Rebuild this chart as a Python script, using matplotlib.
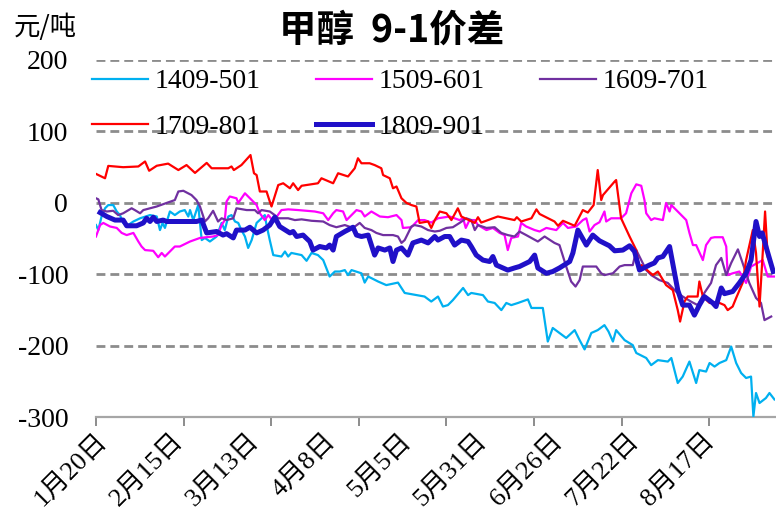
import matplotlib
matplotlib.use('Agg')
from matplotlib import pyplot as plt

plt.rcParams['axes.unicode_minus'] = False

# x = days counted from 1月20日, y = spread (元/吨)
d1409 = [0, 0.8, 1.9, 3.1, 4.2, 5.9, 7.1, 8.2, 9.3, 11.0, 12.8, 15.1, 18.5, 20.8, 21.9, 22.8, 23.6, 25.3, 27.0, 28.7,
         30.4, 31.6, 32.2, 33.3, 35.0, 36.2, 37.3, 39.0, 41.3, 43.0, 44.1, 45.3, 46.4, 47.6, 48.7, 49.8, 51.0, 52.1, 53.3, 55.0,
         56.7, 57.8, 58.4, 59.5, 60.7, 63.5, 64.7, 65.8, 66.9, 70.4, 72.1, 73.8, 76.0, 77.8, 80.0, 81.8, 83.5, 85.2, 86.3, 87.5,
         90.9, 92.0, 93.2, 96.6, 99.4, 103.4, 105.7, 112.5, 114.8, 117.1, 118.8, 120.5, 122.2, 125.7, 127.4, 128.5, 132.5, 134.2, 136.5, 138.8,
         140.5, 142.2, 144.5, 147.9, 149.1, 153.0, 154.7, 156.4, 158.7, 161.0, 163.9, 165.6, 167.3, 169.6, 171.8, 174.1, 175.5, 177.0, 178.1, 181.0,
         183.8, 185.0, 188.4, 190.1, 192.4, 195.8, 197.0, 199.2, 200.9, 203.2, 205.5, 206.6, 208.9, 210.1, 211.8, 213.5, 215.8, 217.5, 219.2, 220.9,
         222.6, 224.3, 225.1, 226.0, 227.2, 229.4, 230.6, 232.3]
v1409 = [-31, -38, -19, -7.5, -3, -3, -12, -17, -28, -31, -26, -21.5, -17, -19, -38, -28, -35, -12, -17, -12,
         -10, -19, -10, -24, -3, -52, -49, -54, -47, -28, -38, -19, -17, -26, -28, -38, -47, -63, -52, -28,
         -21.5, -17, -31, -52, -73, -75, -68, -75, -70, -73, -81, -70, -73, -80, -103, -96, -96, -94, -101, -94,
         -98.5, -111.5, -103, -110, -115, -111.5, -126, -131, -138, -131, -145, -143, -136, -119, -129, -126, -129, -138, -140, -150,
         -140, -143, -140, -135, -147, -147, -194, -175, -182, -189, -178, -192, -205, -182, -178, -171, -180, -194, -178, -192,
         -199, -210, -217, -227, -220, -222, -217, -252, -243, -222, -252, -234, -236, -224, -229, -224, -220, -201, -224, -238,
         -245, -243, -299, -266, -280, -273, -266, -275]

d1509 = [0, 1.4, 2.5, 4.8, 7.1, 8.8, 10.5, 12.8, 14.5, 15.6, 16.8, 19.6, 21.3, 22.5, 23.6, 25.3, 27.0, 28.7, 32.2, 35.6,
         40.1, 41.8, 43.0, 44.1, 44.7, 45.8, 48.1, 48.7, 51.0, 52.7, 53.8, 55.0, 56.1, 57.8, 59.0, 60.7, 63.5, 65.8, 69.2, 74.9,
         77.8, 79.5, 81.2, 82.3, 84.6, 85.8, 87.5, 89.2, 90.9, 92.0, 94.3, 97.2, 100.0, 102.9, 104.6, 105.1, 108.0, 110.3, 112.5, 114.8,
         117.1, 121.1, 124.5, 125.7, 126.6, 127.9, 129.7, 130.8, 133.7, 135.9, 138.2, 139.9, 141.0, 142.2, 144.5, 145.6, 147.3, 150.2, 151.9, 154.2,
         157.6, 159.9, 161.6, 164.4, 166.7, 167.9, 169.0, 170.7, 172.4, 174.1, 174.7, 176.4, 179.8, 181.5, 183.3, 185.0, 186.7, 187.8, 188.4, 190.1,
         191.2, 194.1, 195.2, 196.4, 197.0, 199.8, 202.1, 203.2, 204.4, 205.5, 207.8, 208.9, 210.6, 211.8, 214.6, 215.8, 216.3, 218.0, 220.3, 222.6,
         224.3, 228.3, 230.0, 232.3]
v1509 = [-47, -31, -28, -33, -35, -42, -45, -42, -54, -61, -66, -67, -76, -70, -75, -68, -61, -61, -54, -49,
         -47, -45, -31, -24, 2, 9, 6.5, 0, 13.5, 6.5, 2, -3, -14.5, -24, -17, -26, -10, -9, -10, -12,
         -14.5, -24, -14.5, -10, -12, -24, -17, -10, -12, -19, -12, -19, -20, -17, -24, -35, -34, -24, -24, -27.5,
         -21.5, -19, -24, -21.5, -35, -24, -24, -31, -38, -35, -42, -45, -66, -49, -47, -28, -33, -38, -40, -35,
         -38, -28, -35, -33, -24, -21.5, -40, -31, -27, -12, -26, -21.5, -21.5, -14.5, 13.5, 26, 24, 4, -14.5, -24,
         -21.5, -24, 0, -12, -3, -14.5, -24, -42, -59, -59, -80, -59, -49, -48, -48, -61, -101, -98.5, -96, -112,
         -89, -80, -103, -103]

d1609 = [0, 0.8, 1.9, 3.7, 5.9, 7.6, 9.3, 12.2, 13.3, 15.1, 16.2, 20.8, 24.2, 27.0, 28.2, 29.9, 32.7, 34.4, 35.6, 37.3,
         38.4, 40.1, 41.8, 43.0, 44.7, 47.0, 48.1, 51.6, 54.4, 55.5, 56.7, 59.5, 61.2, 62.4, 65.8, 68.1, 70.4, 73.8, 77.8, 80.0,
         82.3, 85.2, 88.0, 90.3, 92.0, 94.3, 96.0, 98.3, 101.7, 103.4, 104.6, 105.7, 108.0, 109.1, 111.4, 113.7, 116.0, 117.7, 120.0, 122.2,
         124.5, 126.8, 128.5, 129.7, 130.8, 133.7, 136.5, 138.8, 141.0, 143.3, 145.0, 147.3, 151.3, 153.6, 157.0, 158.7, 161.0, 162.7, 164.2, 165.6,
         166.7, 171.3, 173.0, 174.1, 177.0, 179.3, 181.0, 183.8, 185.0, 186.7, 188.4, 190.1, 192.9, 195.8, 198.6, 200.9, 203.7, 206.0, 208.3, 210.6,
         212.3, 214.1, 215.8, 217.5, 219.8, 221.4, 223.7, 226.0, 227.7, 228.9, 231.2]
v1609 = [6.5, 5, -10, -12, -11, -17, -14.5, -7.5, -10, -14.5, -10, -5, 0, 4, 16, 17, 11, 4, -5, -26,
         -21.5, -11, -26, -21.5, -24, -21.5, -7.5, -10, -10, -14.5, -10, -12, -17, -21.5, -21.5, -24, -23, -25, -26, -31,
         -34, -31, -35, -28, -35, -38, -42, -45, -45, -47, -56, -52, -33, -31, -33, -38, -40, -39, -35, -34,
         -28, -21.5, -24, -38, -31, -35, -34, -42, -45, -47, -40, -45, -54, -47, -56, -59, -89, -110, -117, -108,
         -89, -89, -98.5, -101, -98.5, -89, -87, -87, -66, -80, -94, -101, -108, -112, -124, -131, -138, -143, -126, -112,
         -87, -77, -101, -84, -65, -84, -112, -133, -140, -164, -159]

d1709 = [0, 3.1, 4.2, 9.3, 14.5, 16.8, 18.2, 20.8, 24.7, 28.2, 31.0, 33.9, 37.9, 39.6, 45.3, 46.4, 47.2, 49.8, 52.9, 54.1,
         55.0, 56.1, 58.4, 59.5, 60.1, 62.4, 64.1, 66.4, 67.5, 69.2, 70.4, 76.0, 77.2, 81.2, 82.9, 86.3, 88.6, 89.7, 90.9, 93.7,
         95.4, 97.7, 98.3, 100.6, 101.7, 102.9, 104.6, 106.3, 108.0, 109.7, 110.8, 113.7, 114.8, 116.0, 117.7, 120.0, 121.7, 123.9, 125.1, 129.7,
         130.8, 131.9, 137.6, 143.3, 144.1, 145.6, 149.1, 150.8, 151.9, 157.0, 158.2, 159.9, 163.9, 166.7, 168.4, 170.4, 171.8, 173.0, 173.6, 177.6,
         178.1, 179.8, 182.7, 185.0, 186.1, 186.7, 190.7, 192.4, 195.2, 197.5, 199.2, 200.0, 201.5, 202.6, 206.0, 206.6, 207.8, 210.1, 213.5, 215.2,
         216.3, 218.0, 219.2, 221.4, 222.6, 224.9, 226.0, 227.2, 228.3, 229.1, 230.0]
v1709 = [40.6, 34.5, 51.8, 50, 51, 58, 45, 52, 55, 46, 53, 42, 56, 48.5, 48.5, 51, 46, 53, 67, 41.5,
         39, 16, 16, 2, -5, 25, 27.5, 20.5, 27.5, 18, 24, 27.5, 34.5, 27.5, 41.5, 37, 48.5, 62.5, 55.5, 55.5,
         53, 48.5, 39, 34.5, 20.5, 23, 6.5, 0, -3, -5, -28, -26, -35, -24, -12, -14.5, -24, -7.5, -19, -28,
         -20, -27.5, -19, -24, -20, -26, -21.5, -9, -15.5, -26, -32, -25, -32, -10, -13.5, -3, 46, 4, 11, 30,
         32, -21.5, -47, -66, -94, -87, -101, -96, -115, -122, -150, -166, -138, -131, -131, -110, -131, -140, -140, -143,
         -150, -145, -133, -112, -80, -38, -70, -145, -70, -12, -75]

d1809 = [1.4, 3.7, 6.5, 9.3, 10.5, 13.9, 16.2, 17.3, 18.5, 19.6, 20.8, 23.0, 24.2, 34.4, 36.2, 37.9, 41.3, 43.5, 44.7, 47.0,
         48.1, 51.0, 52.7, 55.0, 57.2, 59.5, 61.2, 62.9, 66.4, 67.5, 68.7, 70.9, 73.2, 74.3, 76.6, 78.9, 80.0, 81.2, 82.3, 85.2,
         88.0, 89.2, 90.9, 93.2, 95.4, 96.6, 98.9, 100.6, 101.7, 102.9, 104.6, 106.8, 108.5, 111.4, 113.7, 116.0, 117.1, 119.4, 121.1, 122.8,
         125.1, 127.4, 128.5, 130.2, 132.5, 134.8, 135.9, 137.1, 141.0, 143.3, 145.0, 148.5, 150.2, 151.3, 154.2, 156.4, 158.7, 162.2, 163.3, 165.0,
         167.9, 170.1, 172.4, 175.8, 177.6, 180.4, 182.7, 184.4, 186.1, 189.5, 191.2, 192.4, 194.1, 196.4, 199.2, 200.9, 203.2, 204.9, 206.6, 208.3,
         211.2, 212.3, 214.1, 215.2, 218.0, 220.3, 222.6, 224.3, 226.0, 227.2, 228.1, 229.4, 231.9]
v1809 = [-13.5, -19, -24, -24, -32, -32, -28, -21.5, -26, -20, -26, -24, -26, -26, -24, -42, -40, -45, -43, -49,
         -38, -38, -34, -42, -38, -31, -20, -33, -42, -40, -47, -45, -54, -66, -61, -63, -59, -66, -47, -40,
         -34, -45, -47, -45, -73, -63, -66, -63, -82, -66, -63, -73, -56, -52, -56, -47, -52, -47, -47, -59,
         -52, -54, -61, -73, -80, -82, -75, -87, -94, -91, -89, -82, -73, -91, -98.5, -96, -91, -82, -70, -38,
         -59, -45, -53, -60, -67, -66, -60, -68, -94, -87, -84, -77, -75, -61, -122, -143, -143, -157, -143, -131,
         -140, -145, -119, -127, -124, -112, -98.5, -80, -26, -47, -42, -61, -96]

series = [
    ('1409-501', d1409, v1409, '#00B0F0', 1.6),
    ('1509-601', d1509, v1509, '#FF00FF', 1.6),
    ('1609-701', d1609, v1609, '#7030A0', 1.6),
    ('1709-801', d1709, v1709, '#FF0000', 1.6),
    ('1809-901', d1809, v1809, '#2010C8', 3.6),
]

tick_days = [0, 30, 60, 90, 120, 150, 180, 210]
label_days = [0, 26, 52, 78, 104, 130, 156, 182, 208]
date_labels = ['1月20日', '2月15日', '3月13日', '4月8日', '5月5日', '5月31日', '6月26日', '7月22日', '8月17日']
y_ticks = [-300, -200, -100, 0, 100, 200]

serif = ['Liberation Serif', 'Noto Sans CJK SC']
cjk = ['Noto Sans CJK SC', 'DejaVu Sans']

fig = plt.figure(figsize=(7.76, 5.19), dpi=100)
ax = fig.add_axes([96 / 776, 101.7 / 519, 679 / 776, 357.3 / 519])

for yv in y_ticks:
    ax.axhline(yv, color='#8C8C8C', lw=2.0, dashes=(3.2, 1.8), zorder=1)

handles = []
for name, d, v, c, lw in series:
    h, = ax.plot(d, v, color=c, lw=lw, label=name, zorder=3, solid_joinstyle='round')
    handles.append(h)

ax.set_xlim(0, 232.5)
ax.set_ylim(-300, 200)

for s in ['top', 'right', 'left']:
    ax.spines[s].set_visible(False)
ax.spines['bottom'].set_color('#A6A6A6')
ax.spines['bottom'].set_linewidth(1.6)

ax.set_yticks(y_ticks)
ax.set_yticklabels([str(t) for t in y_ticks], fontfamily=serif, fontsize=20)
ax.tick_params(axis='y', length=0, pad=20)

# keep the first date label even though it sits on a major tick
ax.xaxis.remove_overlapping_locs = False
ax.set_xticks(tick_days)
ax.set_xticklabels([''] * len(tick_days))
ax.tick_params(axis='x', which='major', length=6.5, width=1.4, color='#8C8C8C', direction='out')
ax.set_xticks(label_days, minor=True)
ax.set_xticklabels(date_labels, minor=True, fontfamily=serif, fontsize=19)
ax.tick_params(axis='x', which='minor', length=0, pad=9)
for t in ax.get_xticklabels(minor=True):
    t.set_rotation(45)
    t.set_ha('right')
    t.set_va('top')
    t.set_rotation_mode('anchor')

order = [0, 3, 1, 4, 2]
leg = ax.legend([handles[i] for i in order], [series[i][0] for i in order],
                ncol=3, frameon=False, loc='upper left',
                bbox_to_anchor=(92 / 776, 1 - 69 / 519), bbox_transform=fig.transFigure,
                prop={'family': serif, 'size': 20}, handlelength=2.0, handletextpad=0.25,
                columnspacing=2.0, labelspacing=0.72, borderpad=0, borderaxespad=0)

fig.text(392 / 776, 1 - 30 / 519, '甲醇  9-1价差', fontfamily=cjk, fontsize=27, fontweight='bold',
         ha='center', va='center')
fig.text(14 / 776, 1 - 27 / 519, '元/吨', fontfamily=cjk, fontsize=19, ha='left', va='center')

fig.savefig('out.png', dpi=100)
